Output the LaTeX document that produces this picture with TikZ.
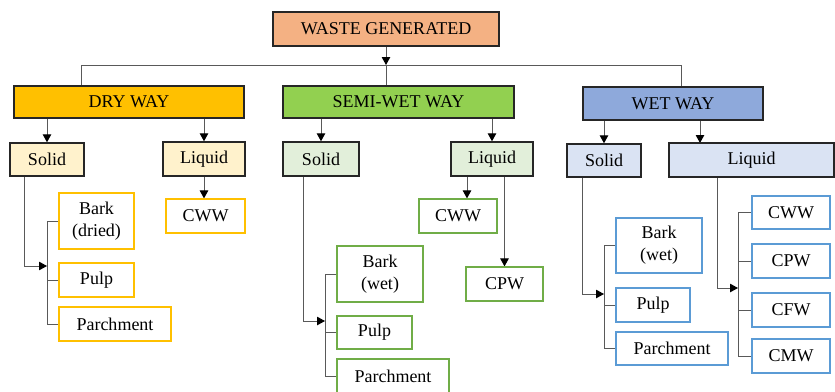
\documentclass[tikz,border=0pt]{standalone}
\usepackage{fontspec}
\setmainfont{Liberation Serif}
\usetikzlibrary{arrows.meta}
\pgfdeclarelayer{edgelayer}
\pgfdeclarelayer{nodelayer}
\pgfsetlayers{edgelayer,nodelayer,main}
\definecolor{rootfill}{HTML}{F4B183}
\definecolor{dryfill}{HTML}{FFC000}
\definecolor{semifill}{HTML}{92D050}
\definecolor{wetfill}{HTML}{8EA9DB}
\definecolor{drysubfill}{HTML}{FFF2CC}
\definecolor{semisubfill}{HTML}{E2EFDA}
\definecolor{wetsubfill}{HTML}{DAE3F3}
\definecolor{dryline}{HTML}{FFC000}
\definecolor{semiline}{HTML}{70AD47}
\definecolor{wetline}{HTML}{5B9BD5}
\definecolor{boxline}{HTML}{262626}
\definecolor{linkgray}{HTML}{595959}
\tikzset{font=\fontsize{18}{22}\selectfont}
\tikzstyle{none}=[inner sep=0pt]
\tikzstyle{box}=[rectangle,draw,inner sep=0pt,align=center,minimum height=34pt]
\tikzstyle{head}=[box,draw=boxline,line width=1.4pt]
\tikzstyle{root}=[head,fill=rootfill]
\tikzstyle{dryhead}=[head,fill=dryfill]
\tikzstyle{semihead}=[head,fill=semifill]
\tikzstyle{wethead}=[head,fill=wetfill]
\tikzstyle{drysub}=[head,fill=drysubfill]
\tikzstyle{semisub}=[head,fill=semisubfill]
\tikzstyle{wetsub}=[head,fill=wetsubfill]
\tikzstyle{dryleaf}=[box,draw=dryline,line width=1.2pt,fill=white]
\tikzstyle{semileaf}=[box,draw=semiline,line width=1.2pt,fill=white]
\tikzstyle{wetleaf}=[box,draw=wetline,line width=1.2pt,fill=white]
\tikzstyle{link}=[draw=linkgray,line width=1pt]
\tikzstyle{arr}=[link,-{Triangle[length=8pt,width=8.5pt,color=black]}]

\begin{document}
\begin{tikzpicture}[x=1pt,y=-1pt]
	\useasboundingbox (0,0) rectangle (835,391);
	\begin{pgfonlayer}{nodelayer}
		\node [style=root, minimum width=226pt] (0) at (386, 29) {WASTE GENERATED};
		\node [style=dryhead, minimum width=230pt, minimum height=32pt] (1) at (129, 102) {DRY WAY};
		\node [style=semihead, minimum width=231pt, minimum height=32pt] (2) at (398.5, 102) {SEMI-WET WAY};
		\node [style=wethead, minimum width=180pt, minimum height=33pt] (3) at (673, 103.5) {WET WAY};
		\node [style=drysub, minimum width=74pt, minimum height=33pt] (4) at (47, 159.5) {Solid};
		\node [style=drysub, minimum width=82pt] (5) at (204, 159) {Liquid};
		\node [style=semisub, minimum width=76pt] (6) at (321, 159) {Solid};
		\node [style=semisub, minimum width=82pt] (7) at (492, 159) {Liquid};
		\node [style=wetsub, minimum width=74pt, minimum height=33pt] (8) at (604, 160.5) {Solid};
		\node [style=wetsub, minimum width=165pt] (9) at (751.5, 160) {Liquid};
		\node [style=dryleaf, minimum width=75pt, minimum height=56pt] (10) at (96.5, 221) {Bark\\(dried)};
		\node [style=dryleaf, minimum width=75pt] (11) at (96.5, 280) {Pulp};
		\node [style=dryleaf, minimum width=112pt] (12) at (115, 324) {Parchment};
		\node [style=dryleaf, minimum width=79pt] (13) at (205.5, 216) {CWW};
		\node [style=semileaf, minimum width=86pt, minimum height=56pt] (14) at (380, 274) {Bark\\(wet)};
		\node [style=semileaf, minimum width=75pt, minimum height=33pt] (15) at (374.5, 332.5) {Pulp};
		\node [style=semileaf, minimum width=112pt] (16) at (393, 376) {Parchment};
		\node [style=semileaf, minimum width=78pt] (17) at (458, 216) {CWW};
		\node [style=semileaf, minimum width=77pt] (18) at (504.5, 284) {CPW};
		\node [style=wetleaf, minimum width=86pt, minimum height=55pt] (19) at (659, 245.5) {Bark\\(wet)};
		\node [style=wetleaf, minimum width=74pt] (20) at (653, 305) {Pulp};
		\node [style=wetleaf, minimum width=112pt, minimum height=33pt] (21) at (672, 348.5) {Parchment};
		\node [style=wetleaf, minimum width=78pt, minimum height=33pt] (22) at (791, 212.5) {CWW};
		\node [style=wetleaf, minimum width=78pt] (23) at (791, 261) {CPW};
		\node [style=wetleaf, minimum width=78pt] (24) at (791, 310) {CFW};
		\node [style=wetleaf, minimum width=78pt] (25) at (791, 356) {CMW};
		\node [style=none] (26) at (386, 65) {};
		\node [style=none] (27) at (81, 65) {};
		\node [style=none] (28) at (681, 65) {};
		\node [style=none] (29) at (700, 143) {};
		\node [style=none] (30) at (24, 266) {};
		\node [style=none] (31) at (47, 266) {};
		\node [style=none] (32) at (467, 190) {};
		\node [style=none] (33) at (303, 321) {};
		\node [style=none] (34) at (325, 321) {};
		\node [style=none] (35) at (582, 294) {};
		\node [style=none] (36) at (604, 294) {};
		\node [style=none] (37) at (717, 288) {};
		\node [style=none] (38) at (738, 288) {};
	\end{pgfonlayer}
	\begin{pgfonlayer}{edgelayer}
		\draw [style=arr] (0) to (26.center);
		\draw [style=link] (27.center) to (28.center);
		\draw [style=link] (27.center) to (27.center |- 1.north);
		\draw [style=link] (26.center) to (26.center |- 2.north);
		\draw [style=link] (28.center) to (28.center |- 3.north);
		\draw [style=arr] (1.south -| 4.north) to (4.north);
		\draw [style=arr] (1.south -| 5.north) to (5.north);
		\draw [style=arr] (2.south -| 6.north) to (6.north);
		\draw [style=arr] (2.south -| 7.north) to (7.north);
		\draw [style=arr] (3.south -| 8.north) to (8.north);
		\draw [style=arr] (3.south -| 29.center) to (29.center);
		\draw [style=link] (4.south -| 30.center) to (30.center);
		\draw [style=arr] (30.center) to (31.center);
		\draw [style=link] (31.center |- 10.west) to (31.center |- 12.west);
		\draw [style=link] (31.center |- 10.west) to (10.west);
		\draw [style=link] (31.center |- 11.west) to (11.west);
		\draw [style=link] (31.center |- 12.west) to (12.west);
		\draw [style=arr] (5.south) to (5.south |- 13.north);
		\draw [style=link] (6.south -| 33.center) to (33.center);
		\draw [style=arr] (33.center) to (34.center);
		\draw [style=link] (34.center |- 14.west) to (34.center |- 16.west);
		\draw [style=link] (34.center |- 14.west) to (14.west);
		\draw [style=link] (34.center |- 15.west) to (15.west);
		\draw [style=link] (34.center |- 16.west) to (16.west);
		\draw [style=arr] (7.south -| 32.center) to (17.north -| 32.center);
		\draw [style=arr] (7.south -| 18.north) to (18.north);
		\draw [style=link] (8.south -| 35.center) to (35.center);
		\draw [style=arr] (35.center) to (36.center);
		\draw [style=link] (36.center |- 19.west) to (36.center |- 21.west);
		\draw [style=link] (36.center |- 19.west) to (19.west);
		\draw [style=link] (36.center |- 20.west) to (20.west);
		\draw [style=link] (36.center |- 21.west) to (21.west);
		\draw [style=link] (9.south -| 37.center) to (37.center);
		\draw [style=arr] (37.center) to (38.center);
		\draw [style=link] (38.center |- 22.west) to (38.center |- 25.west);
		\draw [style=link] (38.center |- 22.west) to (22.west);
		\draw [style=link] (38.center |- 23.west) to (23.west);
		\draw [style=link] (38.center |- 24.west) to (24.west);
		\draw [style=link] (38.center |- 25.west) to (25.west);
	\end{pgfonlayer}
\end{tikzpicture}
\end{document}
